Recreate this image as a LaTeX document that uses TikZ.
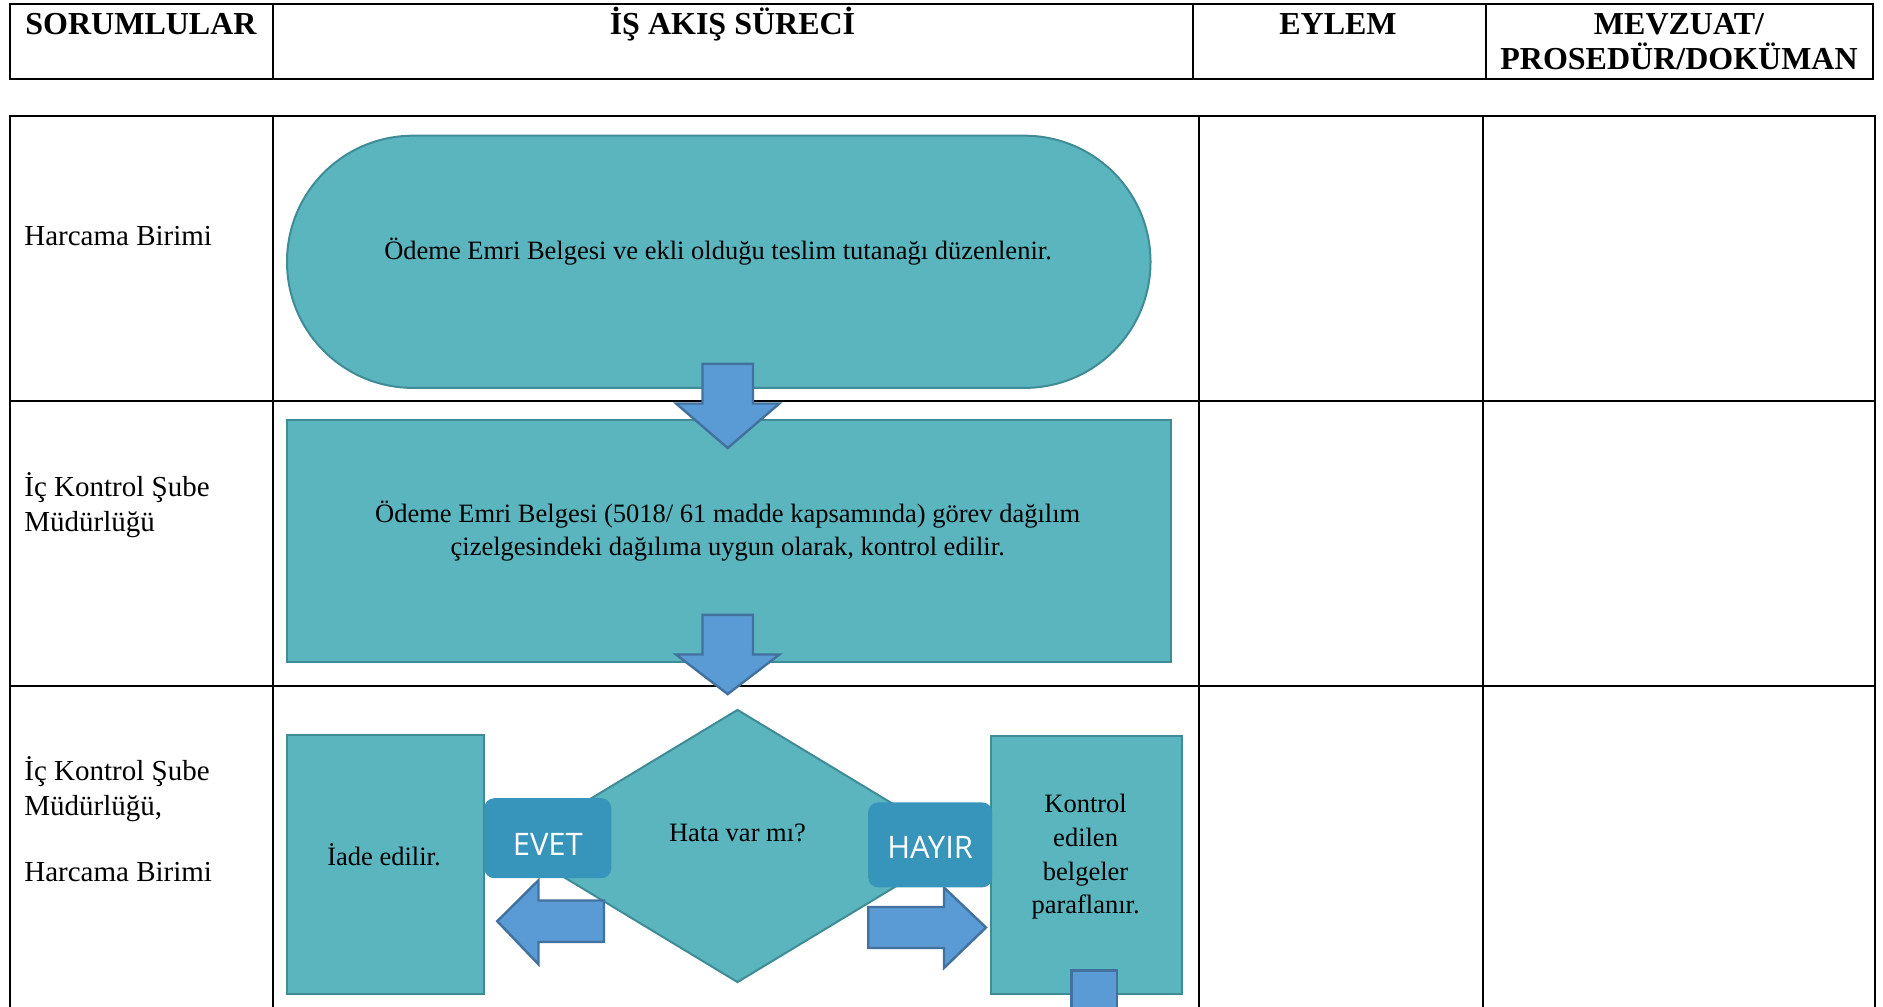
\documentclass[tikz,border=0pt]{standalone}
\usepackage{fontspec}
\setmainfont{Liberation Serif}
\newfontfamily\tagfont{Open Sans}
\usepackage{tikz}
\usetikzlibrary{shapes.geometric}

\definecolor{tealfill}{HTML}{5AB5BF}
\definecolor{tealline}{HTML}{3F8C96}
\definecolor{arrowfill}{HTML}{5B9BD5}
\definecolor{arrowline}{HTML}{41719C}
\definecolor{tagfill}{HTML}{3794BA}

\tikzset{
	grid/.style={draw=black,line width=1pt},
	headtext/.style={anchor=base,inner sep=0pt,font=\fontsize{16}{17.5}\selectfont\bfseries},
	lanetext/.style={anchor=base west,inner sep=0pt,align=left,font=\fontsize{14.5}{17.4}\selectfont},
	flowbox/.style={shape=rectangle,draw=tealline,fill=tealfill,line width=1pt,inner sep=0pt},
	flowtext/.style={inner sep=0pt,align=center,font=\fontsize{13.25}{16.8}\selectfont},
	decision/.style={shape=diamond,draw=tealline,fill=tealfill,line width=1pt,inner sep=0pt},
	yesno/.style={shape=rectangle,rounded corners=5pt,fill=tagfill,text=white,inner sep=0pt,font=\tagfont\fontsize{15.5}{18}\selectfont},
	blockarrow/.style={draw=arrowline,fill=arrowfill,line width=1.2pt,line join=miter}
}

\begin{document}
\begin{tikzpicture}[x=0.5pt,y=-0.5pt]
	\useasboundingbox (0,0) rectangle (1883,1006);
	\clip (0,0) rectangle (1883,1006);

	% header row
	\draw[grid] (9.6,3.6) rectangle (1873.4,79.3);
	\draw[grid] (272.6,3.6) -- (272.6,79.3);
	\draw[grid] (1192.5,3.6) -- (1192.5,79.3);
	\draw[grid] (1485.5,3.6) -- (1485.5,79.3);
	\node[headtext] (h1) at (141,35)   {SORUMLULAR};
	\node[headtext] (h2) at (732.5,35) {İŞ AKIŞ SÜRECİ};
	\node[headtext] (h3) at (1338,35)  {EYLEM};
	\node[headtext] (h4) at (1679,35)  {MEVZUAT/};
	\node[headtext] (h5) at (1679,70)  {PROSEDÜR/DOKÜMAN};

	% body table
	\draw[grid] (9.6,1020) -- (9.6,116.5) -- (1874.6,116.5) -- (1874.6,1020);
	\draw[grid] (272.6,116.5) -- (272.6,1020);
	\draw[grid] (1198.5,116.5) -- (1198.5,1020);
	\draw[grid] (1483.1,116.5) -- (1483.1,1020);
	\draw[grid] (9.6,401.1) -- (1874.6,401.1);
	\draw[grid] (9.6,685.7) -- (1874.6,685.7);

	\node[lanetext] (r1) at (24,245) {Harcama Birimi};
	\node[lanetext] (r2) at (24,531) {İç Kontrol Şube\\Müdürlüğü};
	\node[lanetext] (r3) at (24,881) {İç Kontrol Şube\\Müdürlüğü,\\[15.5pt]Harcama Birimi};

	% shapes
	\node[flowbox,rounded corners=63pt,minimum width=431.75pt,minimum height=126.1pt] (term) at (718.75,261.8) {};
	\node[flowbox,minimum width=441.95pt,minimum height=120.7pt] (ctrl) at (728.95,541) {};
	\node[flowbox,minimum width=98.5pt,minimum height=129.7pt] (iade) at (385.5,864.7) {};
	\node[decision,minimum width=225.5pt,minimum height=136.5pt] (hata) at (737.5,846) {};
	\node[flowbox,minimum width=95.5pt,minimum height=129.2pt] (kontrol) at (1086.3,865.2) {};

	% block arrows
	\draw[blockarrow] (702.5,363.9) -- (753,363.9) -- (753,403.5) -- (779.4,403.5) -- (727.7,448) -- (676,403.5) -- (702.5,403.5) -- cycle;
	\draw[blockarrow] (702.5,614.9) -- (753,614.9) -- (753,654.5) -- (779.4,654.5) -- (727.7,694.1) -- (676,654.5) -- (702.5,654.5) -- cycle;
	\draw[blockarrow] (604,900.5) -- (604,942) -- (538.5,942) -- (538.5,964.3) -- (497.2,921.2) -- (538.5,880.2) -- (538.5,900.5) -- cycle;
	\draw[blockarrow] (868.2,907) -- (944,907) -- (944,887.5) -- (986,927.5) -- (944,968) -- (944,948) -- (868.2,948) -- cycle;
	\draw[blockarrow] (1071.5,1015) -- (1071.5,970.5) -- (1117,970.5) -- (1117,1015);

	\node[yesno,minimum width=63.5pt,minimum height=40pt] (evet) at (547.8,838.2) {\raisebox{-8.5pt}[0pt][0pt]{EVET}};
	\node[yesno,minimum width=62pt,minimum height=42.5pt] (hayir) at (930.2,844.9) {\raisebox{-7pt}[0pt][0pt]{HAYIR}};

	% texts
	\node[flowtext] (t1) at (718,252) {Ödeme Emri Belgesi ve ekli olduğu teslim tutanağı düzenlenir.};
	\node[flowtext] (t2) at (727.7,531) {Ödeme Emri Belgesi (5018/ 61 madde kapsamında) görev dağılım\\çizelgesindeki dağılıma uygun olarak, kontrol edilir.};
	\node[flowtext] (t3) at (384,855) {İade edilir.};
	\node[flowtext] (t4) at (737.5,833.4) {Hata var mı?};
	\node[flowtext] (t5) at (1085.6,857) {Kontrol\\edilen\\belgeler\\paraflanır.};
\end{tikzpicture}
\end{document}
